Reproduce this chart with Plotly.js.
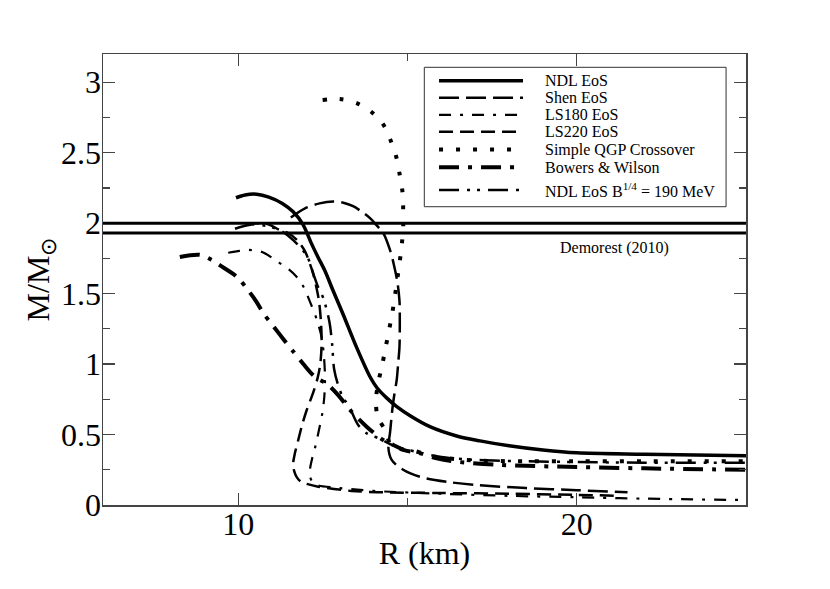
<!DOCTYPE html>
<html>
<head>
<meta charset="utf-8">
<script src="https://cdn.plot.ly/plotly-3.0.1.min.js"></script>
<style>html,body{margin:0;padding:0;background:#fff}#chart{width:830px;height:589px}</style>
</head>
<body>
<div id="chart"></div>
<script>
// ---- data (R in km, M in solar masses) ----
const seriesNames = ["NDL EoS", "Shen EoS", "LS180 EoS", "LS220 EoS", "Simple QGP Crossover", "Bowers & Wilson", "NDL EoS B<sup>1/4</sup> = 190 MeV"];

const ndlR = [9.93,10.2,10.54,10.9,11.3,11.62,11.91,12.15,12.35,12.56,12.8,13.1,13.49,13.89,14.1,14.38,14.67,15.1,15.66,16.45,17.14,18.0,19.0,20.0,22.0,25.0];
const ndlM = [2.18,2.20,2.205,2.185,2.14,2.08,1.99,1.86,1.76,1.66,1.52,1.35,1.12,0.91,0.83,0.76,0.70,0.63,0.556,0.49,0.455,0.42,0.39,0.37,0.36,0.35];

const shenR = [11.55,11.97,12.4,12.8,13.1,13.39,13.65,13.89,14.1,14.28,14.48,14.6,14.7,14.76,14.77,14.76,14.72,14.68,14.6,14.55,14.48,14.43,14.53,14.87,15.37,16.15,17.04,18.5,20.0,21.5];
const shenM = [2.04,2.105,2.14,2.153,2.145,2.12,2.08,2.035,1.98,1.93,1.81,1.70,1.58,1.45,1.30,1.12,1.0,0.89,0.77,0.68,0.51,0.414,0.32,0.25,0.20,0.165,0.142,0.12,0.105,0.09];

const ls180R = [9.7,9.95,10.3,10.7,11.2,11.5,11.72,11.92,12.12,12.31,12.46,12.53,12.56,12.54,12.48,12.38,12.28,12.18,12.12,12.12,12.2,12.35,13.0,14.0,16.0,18.0,20.0,22.0,25.0];
const ls180M = [1.79,1.80,1.81,1.795,1.72,1.67,1.62,1.55,1.44,1.32,1.19,1.05,0.90,0.77,0.65,0.53,0.42,0.33,0.26,0.20,0.16,0.14,0.12,0.10,0.08,0.065,0.055,0.045,0.035];

const ls220R = [10.2,10.6,10.9,11.23,11.47,11.77,11.97,12.1,12.2,12.3,12.38,12.44,12.46,12.42,12.34,12.2,12.02,11.87,11.77,11.67,11.62,11.65,11.72,11.85,12.02,12.36,13.34,14.3,16.0,18.0,20.0,21.3];
const ls220M = [1.99,2.0,1.99,1.95,1.93,1.87,1.80,1.72,1.65,1.55,1.45,1.30,1.15,1.0,0.90,0.79,0.674,0.556,0.461,0.367,0.296,0.24,0.20,0.165,0.15,0.13,0.10,0.09,0.085,0.08,0.072,0.065];

const qgpR = [12.49,13.0,13.51,13.94,14.28,14.51,14.67,14.77,14.85,14.87,14.87,14.83,14.77,14.7,14.63,14.55,14.45,14.35,14.25,14.14,14.07,14.11,14.36,14.48,14.72,15.17,15.75,16.45,17.04,18.5,20.0,22.0,25.0];
const qgpM = [2.874,2.88,2.85,2.787,2.70,2.58,2.465,2.34,2.22,2.10,1.975,1.85,1.73,1.61,1.49,1.365,1.237,1.116,0.994,0.875,0.757,0.632,0.52,0.438,0.40,0.385,0.345,0.325,0.315,0.31,0.31,0.31,0.31];

const bwR = [8.27,8.87,9.2,9.46,9.95,10.3,10.54,10.74,11.03,11.32,11.62,11.92,12.26,12.61,12.95,13.3,13.79,14.28,14.58,14.9,15.37,15.86,16.34,17.73,20.0,22.0,25.0];
const bwM = [1.76,1.775,1.74,1.70,1.62,1.52,1.44,1.36,1.27,1.18,1.09,1.0,0.91,0.86,0.78,0.674,0.556,0.461,0.426,0.39,0.367,0.331,0.31,0.284,0.27,0.26,0.25];

const ndl190R = [9.9,10.4,10.93,11.3,11.62,12.02,12.21,12.35,12.51,12.69,12.77,12.83,12.95,13.1,13.25,13.54,13.79,14.18,14.6,15.2,16.0,17.0,18.5,20.0,22.0,25.0];
const ndl190M = [1.96,1.99,1.975,1.94,1.88,1.77,1.644,1.55,1.467,1.30,1.143,0.963,0.85,0.757,0.71,0.568,0.509,0.47,0.42,0.38,0.34,0.32,0.31,0.305,0.30,0.30];

const demorestBounds = [2.0, 1.93];
const demorestLabel = "Demorest (2010)";
const xTicks = [10, 20];
const yTicks = [0, 0.5, 1, 1.5, 2, 2.5, 3];
const yTickText = ["0", "0.5", "1", "1.5", "2", "2.5", "3"];

// ---- styles ----
const serif = "'Liberation Serif', 'Times New Roman', Times, serif";
const styles = [
  {width: 3.5, dash: "solid"},
  {width: 2.5, dash: "20px,7px"},
  {width: 2.2, dash: "12px,9px,3px,9px"},
  {width: 2.5, dash: "14px,7px"},
  {width: 4,   dash: "4px,13px"},
  {width: 4,   dash: "20px,9px,4px,9px"},
  {width: 2.5, dash: "20px,8px,3px,7px,3px,8px"}
];
const seriesR = [ndlR, shenR, ls180R, ls220R, qgpR, bwR, ndl190R];
const seriesM = [ndlM, shenM, ls180M, ls220M, qgpM, bwM, ndl190M];

const traces = seriesR.map((r, i) => ({
  type: "scatter", mode: "lines", x: r, y: seriesM[i], name: seriesNames[i],
  line: {color: "black", width: styles[i].width, dash: styles[i].dash, shape: "spline", smoothing: 0.9},
  showlegend: false, hoverinfo: "skip"
}));

// ---- manual legend (long samples like the original) ----
const L = {x0: 0.4997, x1: 0.969, y0: 0.6614, y1: 0.9705, sx0: 0.5226, sx1: 0.6532, tx: 0.6843};
const rowY = [0.9405, 0.903, 0.865, 0.8275, 0.788, 0.749, 0.6985];
const shapes = [
  {type: "rect", xref: "paper", yref: "paper", x0: L.x0, x1: L.x1, y0: L.y0, y1: L.y1,
   line: {color: "#333", width: 1}, fillcolor: "white", layer: "above"}
];
const annotations = [];
seriesNames.forEach((n, i) => {
  shapes.push({type: "line", xref: "paper", yref: "paper", x0: L.sx0, x1: L.sx1, y0: rowY[i], y1: rowY[i],
    line: {color: "black", width: styles[i].width, dash: styles[i].dash}, layer: "above"});
  annotations.push({xref: "paper", yref: "paper", x: L.tx, y: rowY[i], xanchor: "left", yanchor: "middle",
    text: n, showarrow: false, font: {family: serif, size: 16, color: "black"}});
});
demorestBounds.forEach(v => shapes.push({type: "line", xref: "paper", yref: "y", x0: 0, x1: 1, y0: v, y1: v,
  line: {color: "black", width: 3}}));
annotations.push({xref: "x", yref: "y", x: 21.1, y: 1.825, text: demorestLabel, showarrow: false,
  font: {family: serif, size: 16, color: "black"}});

const axisCommon = {
  showgrid: false, zeroline: false, showline: true, linecolor: "#444", linewidth: 1.5,
  ticks: "inside", ticklen: 12, tickwidth: 1.3, tickcolor: "#444", mirror: "allticks",
  tickfont: {family: serif, size: 32, color: "black"}
};

const layout = {
  width: 830, height: 589,
  margin: {l: 103, r: 84, t: 54, b: 84},
  paper_bgcolor: "white", plot_bgcolor: "white",
  font: {family: serif, color: "black"},
  xaxis: Object.assign({}, axisCommon, {
    range: [6, 25], tickmode: "array", tickvals: xTicks, ticklabelstandoff: -10,
    minor: {dtick: 5, tick0: 0, ticks: "inside", ticklen: 7, tickcolor: "#444", tickwidth: 1.3},
    title: {text: "R (km)", font: {family: serif, size: 32, color: "black"}, standoff: 0}
  }),
  yaxis: Object.assign({}, axisCommon, {
    range: [0, 3.2], tickmode: "array", tickvals: yTicks, ticktext: yTickText, ticklabelstandoff: -6,
    minor: {dtick: 0.25, tick0: 0, ticks: "inside", ticklen: 7, tickcolor: "#444", tickwidth: 1.3},
    title: {text: "M/M<sub>⊙</sub>", font: {family: serif, size: 32, color: "black"}, standoff: 0}
  }),
  shapes: shapes, annotations: annotations, showlegend: false
};

Plotly.newPlot("chart", traces, layout, {staticPlot: true, displayModeBar: false});
</script>
</body>
</html>
